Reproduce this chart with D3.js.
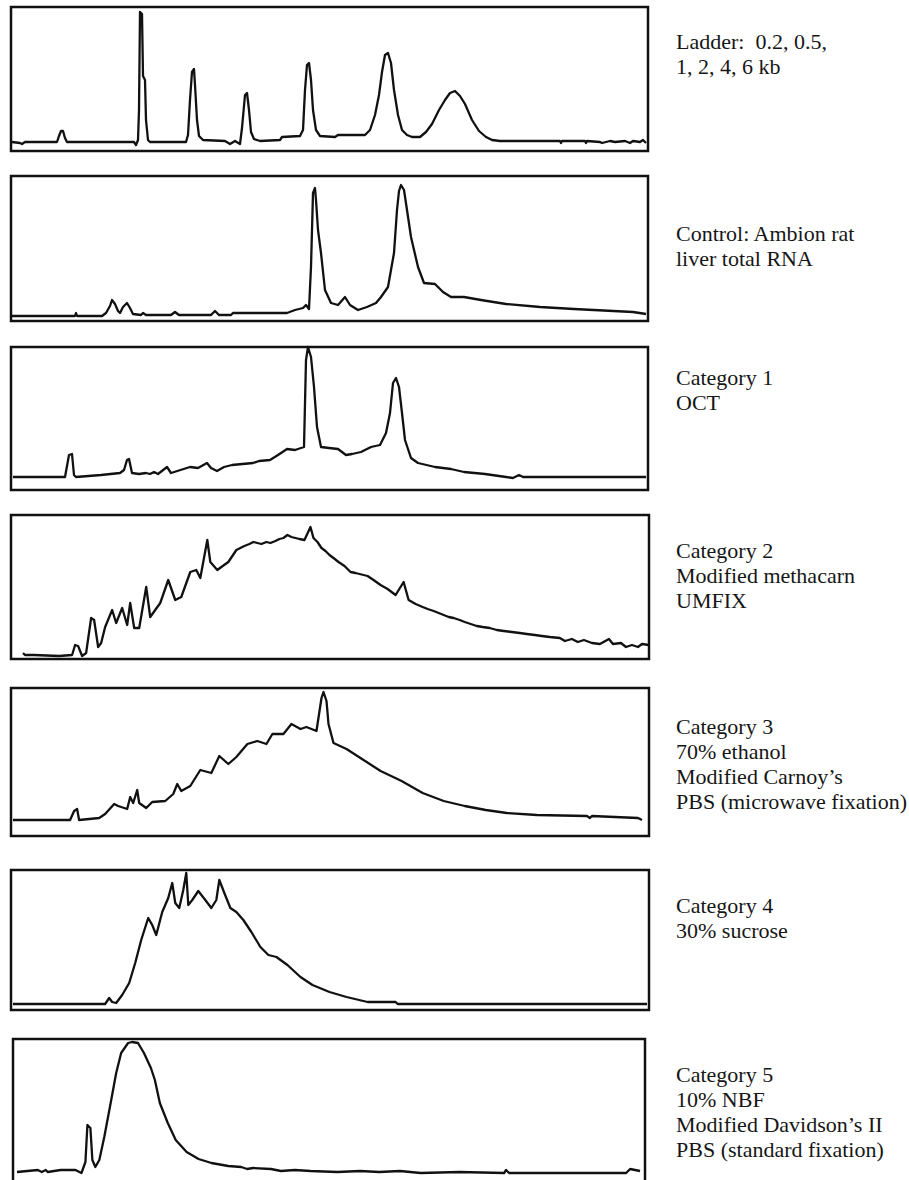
<!DOCTYPE html>
<html>
<head>
<meta charset="utf-8">
<script src="https://cdn.jsdelivr.net/npm/d3@7.9.0/dist/d3.min.js"></script>
<style>
  body { margin: 0; background: #fff; }
  svg text { font-family: "Liberation Serif", "Times New Roman", serif; font-size: 22px; fill: #161616; }
</style>
</head>
<body>
<svg id="chart" width="909" height="1180"></svg>
<script>
// Electropherogram traces
// [migration time (a.u.), fluorescence (a.u.)]
const ladder = [
  [1,9],[9,8],[11,7],[14,9],[46,9],[48,15],[50,20],[52,20],[54,13],[56,9],
  [123,9],[125,6],[127,11],[128,41],[129,139],[131,137],[132,75],[134,71],[135,31],[137,11],[139,9],
  [175,9],[177,16],[179,51],[181,79],[183,82],[184,66],[186,31],[188,15],[192,11],
  [214,10],[219,7],[224,10],[229,7],[231,23],[234,56],[236,58],[238,41],[240,19],[243,12],[249,10],
  [269,11],[271,14],[289,15],[292,21],[294,61],[296,86],[298,88],[300,71],[302,41],[305,21],[309,15],[324,14],[327,16],
  [354,16],[359,21],[364,36],[368,56],[371,79],[374,96],[377,98],[380,88],[383,61],[387,36],[391,21],[396,16],[401,14],[409,14],
  [415,19],[421,27],[428,41],[434,51],[439,58],[444,60],[449,55],[454,47],[461,31],[468,20],[475,14],[481,11],[489,10],
  [549,10],[550,8],[551,10],[574,10],[575,8],[576,10],[589,9],[591,8],[599,10],[604,9],[614,10],[619,8],[622,10],[629,9],[632,11],[635,8]
];

const control = [
  [1,5],[64,5],[65,8],[66,5],[91,5],[95,8],[99,15],[101,21],[104,17],[107,10],[109,8],[112,14],[116,18],[119,13],[122,7],
  [130,6],[132,8],[135,6],[160,6],[164,9],[168,6],[200,6],[204,10],[208,6],[220,6],[222,8],[276,8],[284,11],[292,13],
  [295,16],[298,12],[300,54],[302,128],[304,133],[305,121],[307,91],[310,68],[314,31],[320,18],[327,16],[334,24],[339,16],
  [347,11],[356,14],[365,18],[370,24],[377,34],[383,68],[386,111],[388,130],[390,136],[393,131],[396,111],[400,84],
  [407,54],[413,38],[424,37],[432,29],[440,24],[453,24],[470,21],[495,17],[529,14],[563,12],[622,9],[635,7]
];

const cat1 = [
  [2,13],[54,13],[58,35],[61,36],[63,15],[65,13],[90,15],[109,17],[113,20],[116,30],[118,31],[121,17],[128,16],
  [135,17],[139,16],[143,18],[147,16],[156,23],[160,17],[179,23],[187,22],[196,27],[200,22],[206,19],[213,23],
  [221,25],[242,27],[248,29],[259,30],[267,35],[276,41],[284,40],[293,43],[295,130],[297,143],[300,133],[303,103],
  [306,63],[310,43],[318,42],[327,41],[335,35],[341,36],[350,38],[360,43],[369,45],[375,57],[379,77],[382,107],
  [385,112],[388,103],[391,77],[394,50],[400,32],[407,27],[424,23],[440,21],[453,18],[474,16],[495,13],[502,12],
  [508,15],[512,13],[635,13]
];

const cat2 = [
  [12,6],[14,4],[23,4],[48,3],[61,4],[64,14],[67,13],[71,3],[75,6],[80,41],[83,39],[87,12],[90,16],[94,32],[101,49],
  [105,36],[111,51],[116,34],[119,56],[123,31],[128,31],[135,72],[139,42],[149,56],[157,79],[164,59],[170,62],
  [179,87],[185,89],[189,81],[196,119],[199,97],[206,89],[210,92],[217,97],[221,103],[225,109],[229,111],[233,113],
  [238,115],[242,117],[246,116],[250,115],[255,117],[259,116],[264,118],[268,120],[272,121],[276,124],[280,122],
  [284,121],[288,120],[293,119],[299,132],[302,121],[306,117],[310,111],[314,108],[318,104],[322,101],[327,97],
  [333,93],[339,87],[344,86],[348,85],[352,84],[356,83],[362,79],[369,74],[376,70],[384,64],[392,77],[397,59],
  [404,55],[411,52],[416,50],[422,48],[427,46],[432,44],[437,42],[442,41],[448,39],[453,37],[459,35],[465,33],
  [471,32],[478,31],[485,29],[492,28],[500,27],[508,26],[515,25],[523,24],[530,23],[538,22],[548,21],[553,18],
  [560,20],[566,17],[572,19],[580,16],[588,15],[597,20],[601,15],[609,16],[614,12],[620,14],[626,12],[630,15],[637,14]
];

const cat3 = [
  [2,16],[59,16],[63,25],[66,27],[68,16],[88,18],[94,22],[103,32],[107,30],[116,27],[119,39],[122,33],[126,46],[128,33],
  [135,28],[141,34],[154,35],[162,42],[166,52],[170,45],[179,50],[189,66],[200,63],[208,80],[217,72],[225,79],
  [236,92],[246,95],[255,92],[261,102],[272,102],[280,112],[289,107],[295,109],[305,105],[310,138],[312,144],
  [315,135],[317,112],[322,93],[335,87],[352,76],[369,65],[390,55],[411,43],[432,35],[453,30],[474,26],[495,23],
  [525,21],[575,20],[578,18],[580,20],[626,18],[630,16]
];

const cat4 = [
  [2,6],[94,6],[98,12],[101,8],[105,7],[111,15],[118,27],[124,47],[130,70],[137,92],[141,85],[145,75],[151,98],
  [157,112],[161,127],[164,107],[168,102],[172,120],[175,137],[177,105],[181,110],[187,119],[194,110],[200,102],
  [205,110],[208,130],[213,117],[219,102],[225,98],[232,90],[240,78],[249,63],[257,55],[265,53],[276,45],[289,33],
  [301,25],[318,18],[335,13],[356,8],[369,8],[384,8],[386,6],[635,6]
];

const cat5 = [
  [4,11],[25,13],[29,11],[33,13],[35,11],[48,13],[63,13],[69,10],[73,21],[75,58],[78,55],[80,23],[83,16],[87,23],
  [92,46],[99,83],[104,110],[109,130],[116,140],[120,141],[126,140],[132,130],[139,115],[143,103],[148,80],[156,60],
  [164,43],[175,31],[187,24],[200,20],[217,17],[230,16],[236,14],[242,15],[260,14],[270,12],[284,13],[300,12],
  [327,11],[350,12],[369,11],[390,12],[411,10],[450,11],[495,10],[497,13],[500,10],[618,10],[622,14],[632,12]
];

const labels = [
  ["Ladder:  0.2, 0.5,", "1, 2, 4, 6 kb"],
  ["Control: Ambion rat", "liver total RNA"],
  ["Category 1", "OCT"],
  ["Category 2", "Modified methacarn", "UMFIX"],
  ["Category 3", "70% ethanol", "Modified Carnoy\u2019s", "PBS (microwave fixation)"],
  ["Category 4", "30% sucrose"],
  ["Category 5", "10% NBF", "Modified Davidson\u2019s II", "PBS (standard fixation)"]
];

const traces = [ladder, control, cat1, cat2, cat3, cat4, cat5];

// panel boxes in the figure
const layout = [
  { top: 7,    bottom: 151,  left: 11, right: 648, textY: 49 },
  { top: 176,  bottom: 321,  left: 11, right: 648, textY: 241 },
  { top: 347,  bottom: 490,  left: 11, right: 648, textY: 385 },
  { top: 515,  bottom: 659,  left: 11, right: 649, textY: 558 },
  { top: 688,  bottom: 836,  left: 11, right: 649, textY: 734 },
  { top: 870,  bottom: 1010, left: 11, right: 649, textY: 913 },
  { top: 1039, bottom: 1183, left: 13, right: 645, textY: 1082 }
];

const svg = d3.select('#chart');

traces.forEach((trace, i) => {
  const p = layout[i];
  const x = d3.scaleLinear().domain([0, 637]).range([p.left, p.right]);
  const y = d3.scaleLinear().domain([0, p.bottom - p.top]).range([p.bottom, p.top]);

  const g = svg.append('g');

  g.append('rect')
    .attr('x', p.left)
    .attr('y', p.top)
    .attr('width', p.right - p.left)
    .attr('height', p.bottom - p.top)
    .attr('fill', 'none')
    .attr('stroke', '#111')
    .attr('stroke-width', 2.5);

  const line = d3.line()
    .x(d => x(d[0]))
    .y(d => y(d[1]));

  g.append('path')
    .datum(trace)
    .attr('d', line)
    .attr('fill', 'none')
    .attr('stroke', '#111')
    .attr('stroke-width', 2.3)
    .attr('stroke-linejoin', 'round');

  // label block to the right of the box
  g.selectAll('text')
    .data(labels[i])
    .join('text')
    .attr('x', 676)
    .attr('y', (d, j) => p.textY + j * 25)
    .attr('xml:space', 'preserve')
    .style('white-space', 'pre')
    .text(d => d);
});
</script>
</body>
</html>
